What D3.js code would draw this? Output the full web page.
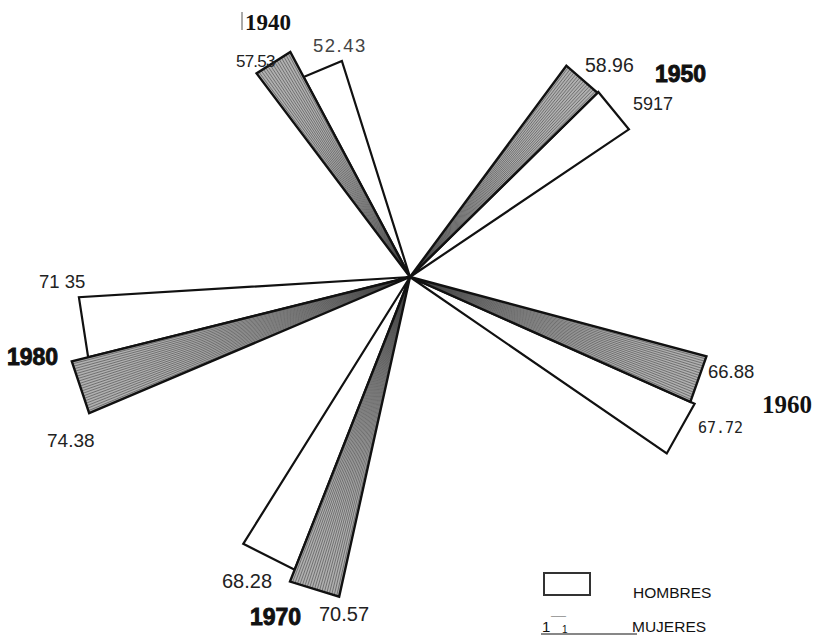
<!DOCTYPE html>
<html><head><meta charset="utf-8">
<script src="https://cdn.jsdelivr.net/npm/d3@7"></script>
<style>body{margin:0;background:#fff}</style>
</head><body>
<svg id="c" width="816" height="638"></svg>
<script>
// ---- data ----
const years = ["1940", "1950", "1960", "1970", "1980"];
const hombres = [52.43, 59.17, 67.72, 68.28, 71.35];
const mujeres = [57.53, 58.96, 66.88, 70.57, 74.38];
const hombresLabels = ["52.43", "5917", "67.72", "68.28", "71 35"];
const mujeresLabels = ["57.53", "58.96", "66.88", "70.57", "74.38"];
const legendLabels = ["HOMBRES", "MUJERES"];

// ---- layout ----
const cx = 410, cy = 277;
const svg = d3.select("#c");
const r = d3.scaleLinear().domain([11.65, 75]).range([0, 352]);
const angle = d3.scaleOrdinal().domain(years).range([-28, 45.5, 114, 201.5, 256]);
const wM = 9, wH = 10.5;
function pt(deg, rad) {
  const a = deg * Math.PI / 180;
  return [cx + rad * Math.sin(a), cy - rad * Math.cos(a)];
}
const line = d3.line();

const gH = svg.append("g"), gM = svg.append("g");
years.forEach((y, i) => {
  const b = angle(y);
  // hombres (white)
  const rh = r(hombres[i]);
  gH.append("path")
    .attr("d", line([[cx, cy], pt(b, rh), pt(b + wH, rh)]) + "Z")
    .attr("fill", "#fff").attr("stroke", "#111").attr("stroke-width", 2.2)
    .attr("stroke-linejoin", "miter");
  // mujeres (hatched)
  const rm = r(mujeres[i]);
  const p1 = pt(b - wM, rm), p2 = pt(b, rm);
  const g = gM.append("g");
  g.append("path")
    .attr("d", line([[cx, cy], p1, p2]) + "Z")
    .attr("fill", "#b0b0b0");
  const n = Math.round(Math.hypot(p2[0] - p1[0], p2[1] - p1[1]) / 2.6);
  for (let k = 1; k < n; k++) {
    const t = k / n;
    g.append("line")
      .attr("x1", cx).attr("y1", cy)
      .attr("x2", p1[0] + (p2[0] - p1[0]) * t)
      .attr("y2", p1[1] + (p2[1] - p1[1]) * t)
      .attr("stroke", "#444").attr("stroke-width", 0.6);
  }
  g.append("path")
    .attr("d", line([[cx, cy], p1, p2]) + "Z")
    .attr("fill", "none").attr("stroke", "#111").attr("stroke-width", 2.4)
    .attr("stroke-linejoin", "miter");
});

// ---- value labels ----
const posM = [[236, 67], [585, 72], [708, 378], [319, 621], [47, 447]];
const posH = [[313, 52], [633, 110], [698, 433], [222, 588], [39, 288]];
const sizeM = [17, 19.5, 18.5, 20, 19];
const sizeH = [18.5, 18, 15, 20, 18.5];
const sans = "'Liberation Sans', Arial, sans-serif";
years.forEach((y, i) => {
  svg.append("text").attr("x", posM[i][0]).attr("y", posM[i][1])
    .attr("font-family", sans).attr("font-size", sizeM[i])
    .attr("letter-spacing", i === 0 ? -0.8 : 0)
    .attr("fill", "#222").text(mujeresLabels[i]);
  const t = svg.append("text").attr("x", posH[i][0]).attr("y", posH[i][1])
    .attr("font-size", sizeH[i])
    .attr("fill", i === 0 ? "#444" : "#222").text(hombresLabels[i]);
  if (i === 2) t.attr("font-family", "'DejaVu Sans Mono', monospace");
  else t.attr("font-family", sans).attr("letter-spacing", i === 0 ? 1.5 : 0);
});

// ---- year labels ----
const yearPos = [[245, 30], [655, 82], [762, 413], [250, 625], [7, 365]];
const serifYear = [true, false, true, false, false];
years.forEach((y, i) => {
  const t = svg.append("text").attr("x", yearPos[i][0]).attr("y", yearPos[i][1])
    .attr("fill", "#111").text(y);
  if (serifYear[i]) {
    t.attr("font-family", "'Liberation Serif', 'Times New Roman', serif")
      .attr("font-weight", "bold").attr("font-size", i === 0 ? 23 : 25);
  } else {
    t.attr("font-family", sans).attr("font-weight", "bold").attr("font-size", 23)
      .attr("stroke", "#111").attr("stroke-width", 0.9);
  }
});
svg.append("line").attr("x1", 242).attr("x2", 242).attr("y1", 12).attr("y2", 30)
  .attr("stroke", "#555").attr("stroke-width", 1);

// ---- legend ----
svg.append("rect").attr("x", 544).attr("y", 573).attr("width", 46).attr("height", 22)
  .attr("fill", "#fff").attr("stroke", "#333").attr("stroke-width", 2);
svg.append("text").attr("x", 633).attr("y", 598).attr("font-family", sans)
  .attr("font-size", 15.5).attr("fill", "#111").text(legendLabels[0]);
svg.append("text").attr("x", 542).attr("y", 632).attr("font-family", sans)
  .attr("font-size", 15).attr("fill", "#111").text("1");
svg.append("text").attr("x", 551).attr("y", 623).attr("font-family", sans)
  .attr("font-size", 9).attr("fill", "#222").text("¯¯¯");
svg.append("text").attr("x", 562).attr("y", 633).attr("font-family", sans)
  .attr("font-size", 10).attr("fill", "#111").text("1");
svg.append("line").attr("x1", 541).attr("x2", 637).attr("y1", 634).attr("y2", 634)
  .attr("stroke", "#111").attr("stroke-width", 1.2);
svg.append("text").attr("x", 632).attr("y", 632).attr("font-family", sans)
  .attr("font-size", 15.5).attr("fill", "#111").text(legendLabels[1]);
</script>
</body></html>
